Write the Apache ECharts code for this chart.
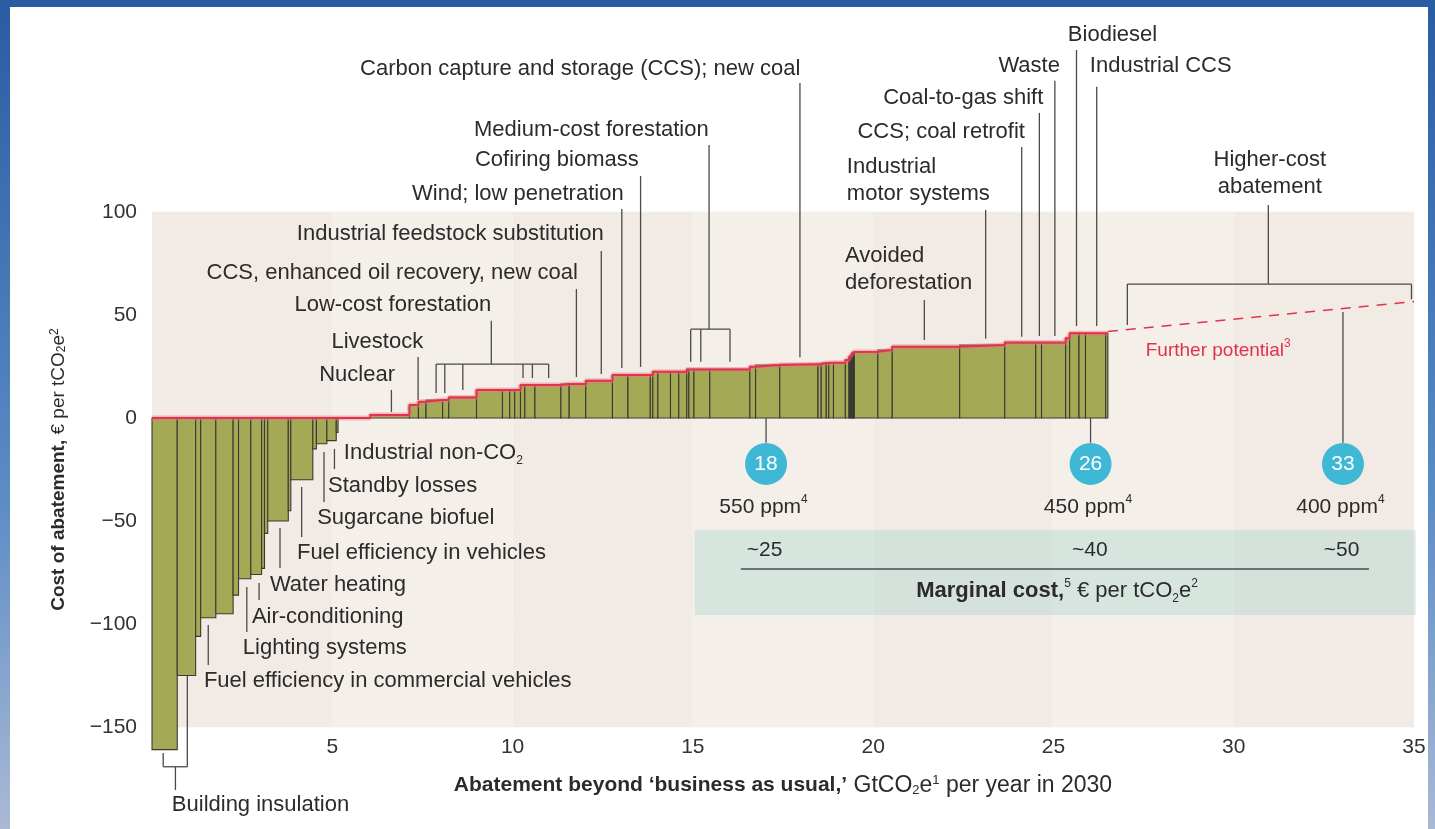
<!DOCTYPE html>
<html><head><meta charset="utf-8">
<script src="https://cdn.jsdelivr.net/npm/echarts@6/dist/echarts.min.js"></script>
<style>html,body{margin:0;padding:0;background:#fff;}#chart{width:1435px;height:829px;}</style>
</head><body><div id="chart"></div>
<script>
// ---------- DATA ----------
// Width of each abatement measure, GtCO2e per year (left to right)
const abatementWidths = [0.70,0.51,0.14,0.42,0.48,0.15,0.34,0.30,0.08,0.09,0.57,0.07,0.61,0.10,0.29,0.26,0.05,
  0.89,
  1.09,0.25,0.21,0.46,0.17,0.77,0.72,0.20,0.14,0.16,0.12,0.28,0.72,0.23,0.46,0.74,0.43,0.62,0.07,0.14,0.35,0.23,0.22,0.06,0.14,0.44,1.11,0.16,0.67,1.06,0.09,0.14,0.07,0.13,0.33,0.10,
  0.03,0.03,0.03,0.03,0.03,
  0.65,0.40,1.87,1.25,0.86,0.16,0.67,0.11,0.26,0.18,0.56,0.06];
// Cost of each measure, € per tCO2e
const abatementCosts = [-161,-125,-106,-97,-95,-86,-78,-76,-73,-56,-50,-45,-30,-15,-12.5,-11,-7,
  0,
  1.5,6.3,7.9,8.7,8.7,10.0,13.6,13.6,13.6,13.6,16.0,16.0,16.0,16.5,16.5,18.1,20.9,20.9,20.9,22.5,22.5,22.5,22.5,23.6,23.6,23.6,23.6,24.9,25.7,26.1,26.1,26.7,26.7,26.8,26.8,28.2,
  29.5,30.3,31.0,31.5,32.0,
  32.2,33.0,34.6,35.4,36.6,36.6,36.6,38.7,41.1,41.1,41.1,41.1];
// Further (higher-cost) potential: dashed extension
const furtherX = [26.51, 35];
const furtherY = [42, 56.5];
// Concentration milestones
const milestoneX = [17.03, 26.03, 33.03];
const milestoneGt = ['18', '26', '33'];
const milestonePpm = ['550', '450', '400'];
const marginalCost = ['~25', '~40', '~50'];
// Axis ticks
const xTicks = {min: 0, max: 35, interval: 5};
const yTicks = {min: -150, max: 100, interval: 50};

// ---------- ANNOTATION LAYOUT (data coordinates) ----------
const labels = [
  {t:'Carbon capture and storage (CCS); new coal', x:17.98, y:169.4, a:'right'},
  {t:'Medium-cost forestation', x:15.44, y:139.8, a:'right'},
  {t:'Cofiring biomass', x:13.5, y:125.2, a:'right'},
  {t:'Wind; low penetration', x:13.08, y:108.7, a:'right'},
  {t:'Industrial feedstock substitution', x:12.53, y:89.3, a:'right'},
  {t:'CCS, enhanced oil recovery, new coal', x:11.81, y:70.4, a:'right'},
  {t:'Low-cost forestation', x:9.41, y:54.9, a:'right'},
  {t:'Livestock', x:7.52, y:36.9, a:'right'},
  {t:'Nuclear', x:6.74, y:20.9, a:'right'},
  {t:'Biodiesel', x:25.4, y:185.9, a:'left'},
  {t:'Waste', x:25.18, y:170.9, a:'right'},
  {t:'Industrial CCS', x:26.01, y:170.9, a:'left'},
  {t:'Coal-to-gas shift', x:24.72, y:155.5, a:'right'},
  {t:'CCS; coal retrofit', x:24.21, y:138.8, a:'right'},
  {t:'Industrial\nmotor systems', x:19.27, y:115.5, a:'left'},
  {t:'Avoided\ndeforestation', x:19.22, y:72.0, a:'left'},
  {t:'Higher-cost\nabatement', x:31.0, y:118.8, a:'center'},
  {t:'Industrial non-CO{sub|2}', x:5.32, y:-17.0, a:'left'},
  {t:'Standby losses', x:4.88, y:-33.0, a:'left'},
  {t:'Sugarcane biofuel', x:4.58, y:-48.5, a:'left'},
  {t:'Fuel efficiency in vehicles', x:4.02, y:-65.5, a:'left'},
  {t:'Water heating', x:3.27, y:-81.1, a:'left'},
  {t:'Air-conditioning', x:2.77, y:-96.6, a:'left'},
  {t:'Lighting systems', x:2.52, y:-111.7, a:'left'},
  {t:'Fuel efficiency in commercial vehicles', x:1.44, y:-127.7, a:'left'},
  {t:'Building insulation', x:0.55, y:-187.9, a:'left'}
];
const leaders = [
  [17.97,162.6,29.5],[15.45,132.5,43.1],[14.94,43.1,27.3],[15.22,43.1,27.3],[16.03,43.1,27.3],
  [13.55,117.5,24.8],[13.03,101.5,24.3],[12.46,81.1,21.4],[11.77,62.6,19.9],[9.41,47.2,26.2],
  [7.88,26.2,12.1],[8.12,26.2,12.1],[8.62,26.2,13.6],[10.29,26.2,19.4],[10.55,26.2,19.4],[11.0,26.2,19.4],
  [7.38,29.6,8.7],[6.64,13.6,2.9],
  [25.64,178.6,44.7],[25.04,163.7,39.8],[26.2,160.8,44.7],[24.61,148.1,39.8],[24.12,131.6,39.5],
  [23.12,101,38.5],[21.42,57.3,37.9],[30.96,103.4,65.0],[27.05,65.0,45.1],[34.93,65.0,57.6],
  [17.03,0,-12],[26.03,0,-12],[33.03,51.5,-12],
  [5.06,-15.0,-24.8],[4.77,-16.5,-40.8],[4.15,-33.5,-57.8],[3.55,-53.4,-72.8],[2.97,-80.1,-88.3],
  [2.63,-82,-103.9],[1.56,-100.5,-119.9],[0.98,-110.2,-169.3],[0.31,-162.6,-169.3],[0.65,-169.3,-180.6]
];
const brackets = [[14.94,16.03,43.1],[7.88,11.0,26.2],[27.05,34.93,65.0],[0.31,0.98,-169.3],[16.33,33.75,-73.3]];

const FONT = "'Liberation Sans', Arial, sans-serif";
const TXT = '#2b2b2b';
const richStyles = {
  sup: {fontSize: 12, verticalAlign: 'top', fontFamily: FONT, fill: TXT},
  sub: {fontSize: 12, verticalAlign: 'bottom', fontFamily: FONT, fill: TXT},
  b: {fontWeight: 'bold', fontSize: 22, fontFamily: FONT, fill: TXT}
};

// ---------- derived geometry ----------
const bars = [];
let cum = 0;
abatementWidths.forEach((w, i) => { bars.push([cum, cum + w, abatementCosts[i]]); cum += w; });
const redLine = [];
bars.forEach(b => { const v = Math.max(b[2], 0); redLine.push([b[0], v], [b[1], v]); });

const chart = echarts.init(document.getElementById('chart'), null, {renderer: 'canvas'});

function renderBars(params, api) {
  const s = api.value(0), e = api.value(1), c = api.value(2);
  if (c === 0) return null;
  const p0 = api.coord([s, 0]), p1 = api.coord([e, c]);
  return {type: 'rect', shape: {x: p0[0], y: Math.min(p0[1], p1[1]), width: p1[0] - p0[0], height: Math.abs(p1[1] - p0[1])},
    style: {fill: '#a4a955', stroke: '#3a3a32', lineWidth: 1.1}};
}

function txt(p, text, opts) {
  return {type: 'text', x: p[0], y: p[1], z2: 20, style: Object.assign({
    text: text, fill: TXT, fontSize: 22, fontFamily: FONT, align: 'left', verticalAlign: 'middle', lineHeight: 27,
    rich: richStyles}, opts || {})};
}

function renderAnnotations(params, api) {
  if (params.dataIndex !== 0) return null;
  const P = (x, y) => api.coord([x, y]);
  const ch = [];
  // marginal-cost box
  const b0 = P(15.05, -54.4), b1 = P(35.05, -95.6);
  ch.push({type: 'rect', shape: {x: b0[0], y: b0[1], width: b1[0] - b0[0], height: b1[1] - b0[1]}, style: {fill: 'rgba(165,212,206,0.38)'}});
  leaders.forEach(([x, y1, y2]) => {
    const a = P(x, y1), b = P(x, y2);
    ch.push({type: 'line', shape: {x1: a[0], y1: a[1], x2: b[0], y2: b[1]}, style: {stroke: '#4a4a4a', lineWidth: 1.3}});
  });
  brackets.forEach(([x1, x2, y]) => {
    const a = P(x1, y), b = P(x2, y);
    ch.push({type: 'line', shape: {x1: a[0], y1: a[1], x2: b[0], y2: b[1]}, style: {stroke: '#4a4a4a', lineWidth: 1.3}});
  });
  labels.forEach(l => ch.push(txt(P(l.x, l.y), l.t, {align: l.a})));
  milestoneX.forEach((x, i) => {
    const c = P(x, -22.3);
    ch.push({type: 'circle', shape: {cx: c[0], cy: c[1], r: 21}, style: {fill: '#3fb8d6'}, z2: 10});
    ch.push(txt(c, milestoneGt[i], {align: 'center', fill: '#fff', fontSize: 21}));
    ch.push(txt(P(x - 0.07, -43.2), milestonePpm[i] + ' ppm{sup|4}', {align: 'center', fontSize: 21}));
    ch.push(txt(P(x - 0.04 + (i === 1 ? 0.02 : 0), -64.4), marginalCost[i], {align: 'center', fontSize: 21}));
  });
  ch.push(txt(P(25.1, -84), '{b|Marginal cost,}{sup|5} € per tCO{sub|2}e{sup|2}', {align: 'center', fontSize: 22}));
  ch.push(txt(P(27.56, 32.5), 'Further potential{rs|3}', {fill: '#e0334a', fontSize: 19,
    rich: {rs: {fontSize: 12, verticalAlign: 'top', fill: '#e0334a', fontFamily: FONT}}}));
  return {type: 'group', children: ch};
}

const option = {
  animation: false,
  backgroundColor: '#ffffff',
  textStyle: {fontFamily: FONT},
  grid: {left: 152, right: 21, top: 212, bottom: 102, show: false},
  graphic: [
    {type: 'rect', left: 0, top: 0, shape: {width: 1435, height: 7}, style: {fill: '#2a5ca3'}, z: 100},
    {type: 'rect', left: 0, top: 0, shape: {width: 10, height: 829}, z: 100,
      style: {fill: new echarts.graphic.LinearGradient(0, 0, 0, 1, [{offset: 0, color: '#2a5ca3'}, {offset: 0.6, color: '#5b8cc6'}, {offset: 1, color: '#aab9d4'}])}},
    {type: 'rect', right: 0, top: 0, shape: {width: 7, height: 829}, z: 100,
      style: {fill: new echarts.graphic.LinearGradient(0, 0, 0, 1, [{offset: 0, color: '#2a5ca3'}, {offset: 0.6, color: '#5b8cc6'}, {offset: 1, color: '#aab9d4'}])}}
  ],
  xAxis: {
    type: 'value', min: xTicks.min, max: xTicks.max, interval: xTicks.interval,
    name: '{b|Abatement beyond ‘business as usual,’} GtCO{sub|2}e{sup|1} per year in 2030',
    nameLocation: 'middle', nameGap: 47,
    nameTextStyle: {fontSize: 23, color: TXT, fontFamily: FONT, rich: {
      b: {fontSize: 21, fontWeight: 'bold', color: TXT, fontFamily: FONT},
      sup: {fontSize: 13, verticalAlign: 'top', color: TXT, fontFamily: FONT},
      sub: {fontSize: 13, verticalAlign: 'bottom', color: TXT, fontFamily: FONT}}},
    axisLine: {show: false}, axisTick: {show: false}, splitLine: {show: false},
    splitArea: {show: true, areaStyle: {color: ['#f2ebe5', '#f5efea']}},
    axisLabel: {formatter: v => v === 0 ? '' : String(v), fontSize: 21, color: '#333', margin: 10, fontFamily: FONT}
  },
  yAxis: {
    type: 'value', min: yTicks.min, max: yTicks.max, interval: yTicks.interval,
    name: '{b|Cost of abatement,} € per tCO{sub|2}e{sup|2}',
    nameLocation: 'middle', nameGap: 84,
    nameTextStyle: {fontSize: 19, color: TXT, fontFamily: FONT, rich: {
      b: {fontSize: 19, fontWeight: 'bold', color: TXT, fontFamily: FONT},
      sup: {fontSize: 12, verticalAlign: 'top', color: TXT, fontFamily: FONT},
      sub: {fontSize: 12, verticalAlign: 'bottom', color: TXT, fontFamily: FONT}}},
    axisLine: {show: false}, axisTick: {show: false},
    splitLine: {show: true, lineStyle: {color: '#fbf8f5', width: 1.5}},
    axisLabel: {formatter: v => String(v).replace('-', '−'), fontSize: 21, color: '#333', margin: 15, fontFamily: FONT}
  },
  series: [
    {type: 'custom', name: 'measures', data: bars, encode: {x: [0, 1], y: 2}, renderItem: renderBars, clip: false, z: 2},
    {type: 'line', name: 'glow', data: redLine, symbol: 'none', lineStyle: {color: 'rgba(236,120,130,0.45)', width: 5}, z: 3, silent: true},
    {type: 'line', name: 'curve', data: redLine, symbol: 'none', lineStyle: {color: '#e2334b', width: 2}, z: 4},
    {type: 'line', name: 'further', data: furtherX.map((x, i) => [x, furtherY[i]]), symbol: 'none',
      lineStyle: {color: '#e2334b', width: 1.6, type: [10, 8]}, z: 4},
    {type: 'custom', name: 'annotations', data: [[0, 0]], renderItem: renderAnnotations, clip: false, z: 1, silent: true}
  ]
};
chart.setOption(option);
</script>
</body></html>
